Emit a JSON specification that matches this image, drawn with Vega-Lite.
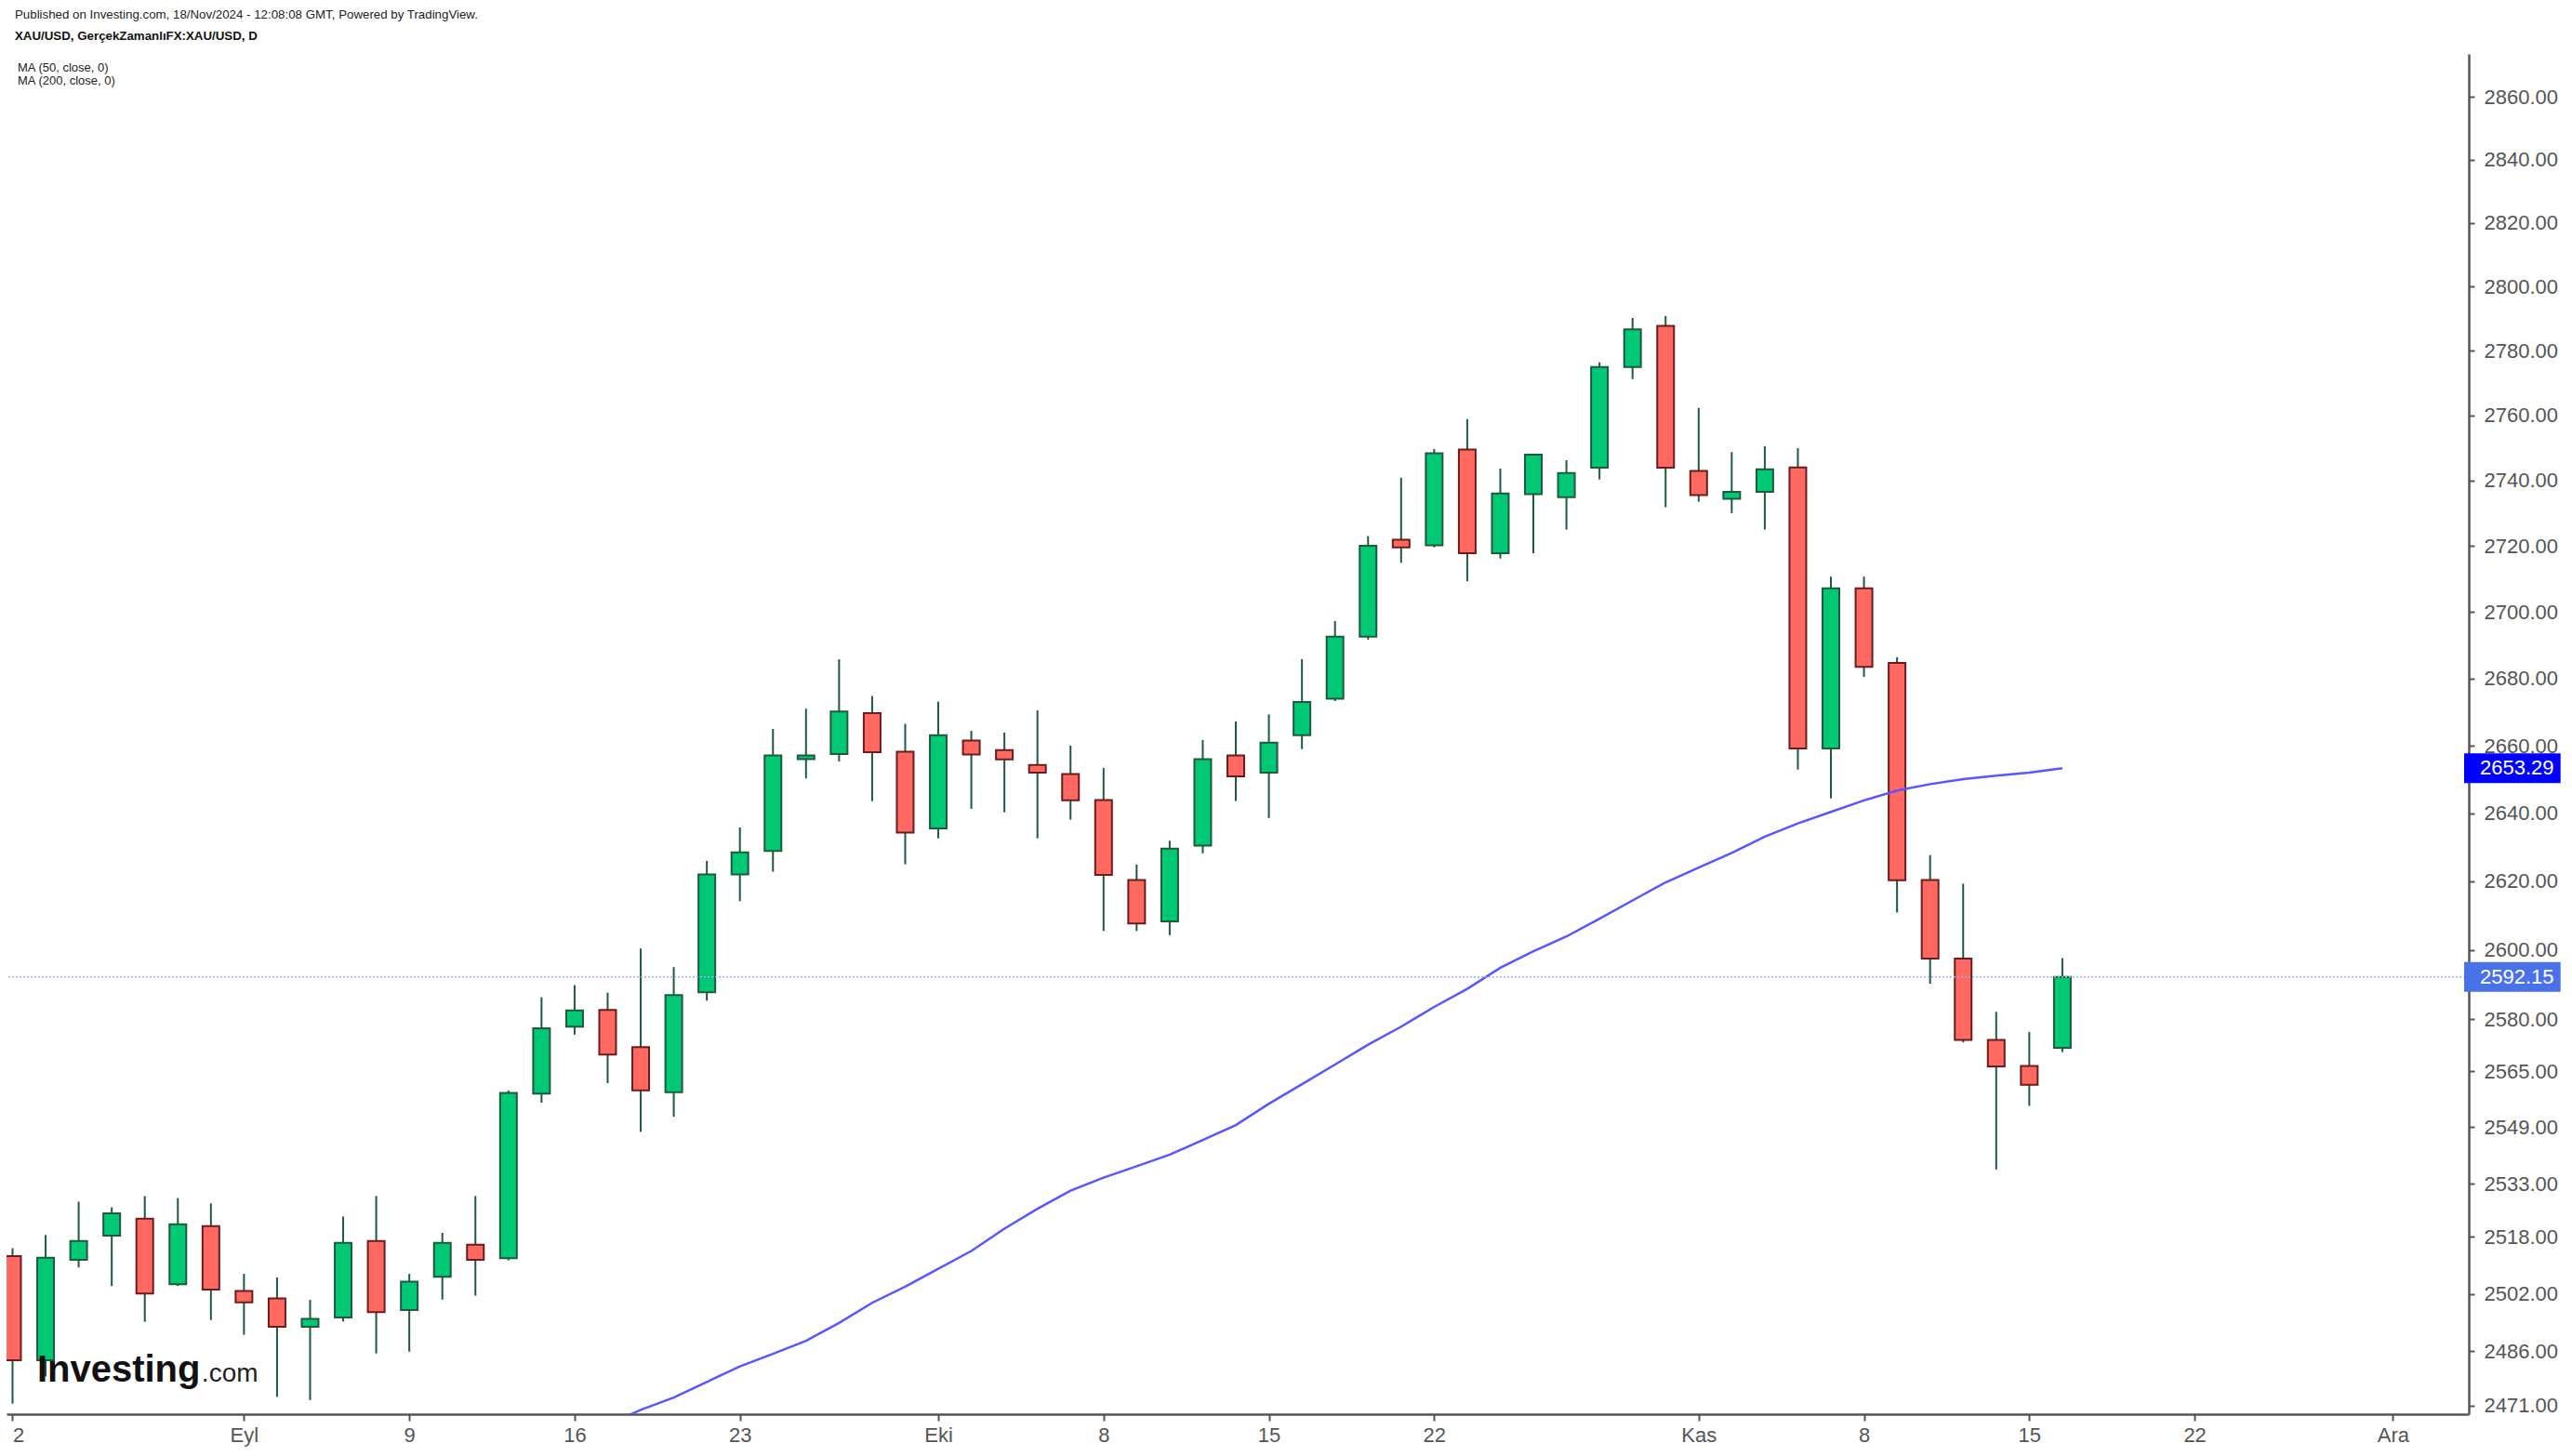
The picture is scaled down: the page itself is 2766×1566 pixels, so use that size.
{
  "$schema": "https://vega.github.io/schema/vega-lite/v6.json",
  "width": 2648,
  "height": 1463,
  "autosize": "none",
  "padding": {"left": 7, "top": 58, "right": 111, "bottom": 45},
  "background": "white",
  "title": {
    "text": "Published on Investing.com, 18/Nov/2024 - 12:08:08 GMT, Powered by TradingView.",
    "subtitle": "XAU/USD, GerçekZamanlıFX:XAU/USD, D",
    "anchor": "start",
    "frame": "group",
    "dx": 9,
    "offset": 13,
    "font": "Liberation Sans",
    "fontSize": 13.3,
    "fontWeight": "normal",
    "color": "#222222",
    "subtitleFont": "Liberation Sans",
    "subtitleFontSize": 13.3,
    "subtitleFontWeight": "bold",
    "subtitleColor": "#111111",
    "subtitlePadding": 9
  },
  "datasets": {
    "candles": [
      {"i": 0, "date": "2024-08-22", "o": 2512.6, "h": 2514.8, "l": 2471.5, "c": 2483.5},
      {"i": 1, "date": "2024-08-23", "o": 2483.5, "h": 2518.5, "l": 2479.0, "c": 2512.1},
      {"i": 2, "date": "2024-08-26", "o": 2511.5, "h": 2527.9, "l": 2509.4, "c": 2516.8},
      {"i": 3, "date": "2024-08-27", "o": 2518.3, "h": 2526.3, "l": 2504.2, "c": 2524.6},
      {"i": 4, "date": "2024-08-28", "o": 2523.1, "h": 2529.5, "l": 2494.2, "c": 2502.1},
      {"i": 5, "date": "2024-08-29", "o": 2504.7, "h": 2528.9, "l": 2504.2, "c": 2521.5},
      {"i": 6, "date": "2024-08-30", "o": 2521.0, "h": 2527.4, "l": 2494.7, "c": 2503.2},
      {"i": 7, "date": "2024-09-02", "o": 2502.8, "h": 2507.6, "l": 2490.6, "c": 2499.6},
      {"i": 8, "date": "2024-09-03", "o": 2500.7, "h": 2506.6, "l": 2473.4, "c": 2492.8},
      {"i": 9, "date": "2024-09-04", "o": 2492.8, "h": 2500.3, "l": 2472.5, "c": 2495.0},
      {"i": 10, "date": "2024-09-05", "o": 2495.4, "h": 2523.7, "l": 2494.3, "c": 2516.3},
      {"i": 11, "date": "2024-09-06", "o": 2516.8, "h": 2529.5, "l": 2485.4, "c": 2496.9},
      {"i": 12, "date": "2024-09-09", "o": 2497.5, "h": 2507.6, "l": 2485.9, "c": 2505.4},
      {"i": 13, "date": "2024-09-10", "o": 2506.8, "h": 2519.1, "l": 2500.4, "c": 2516.3},
      {"i": 14, "date": "2024-09-11", "o": 2515.8, "h": 2529.5, "l": 2501.5, "c": 2511.5},
      {"i": 15, "date": "2024-09-12", "o": 2512.0, "h": 2559.5, "l": 2511.4, "c": 2558.8},
      {"i": 16, "date": "2024-09-13", "o": 2558.6, "h": 2586.3, "l": 2556.0, "c": 2577.3},
      {"i": 17, "date": "2024-09-16", "o": 2577.8, "h": 2589.8, "l": 2575.5, "c": 2582.5},
      {"i": 18, "date": "2024-09-17", "o": 2582.6, "h": 2587.6, "l": 2561.6, "c": 2569.8},
      {"i": 19, "date": "2024-09-18", "o": 2571.9, "h": 2600.4, "l": 2547.7, "c": 2559.5},
      {"i": 20, "date": "2024-09-19", "o": 2559.0, "h": 2595.0, "l": 2552.0, "c": 2586.9},
      {"i": 21, "date": "2024-09-20", "o": 2587.7, "h": 2626.0, "l": 2585.3, "c": 2622.0},
      {"i": 22, "date": "2024-09-23", "o": 2622.0, "h": 2635.8, "l": 2614.2, "c": 2628.5},
      {"i": 23, "date": "2024-09-24", "o": 2628.9, "h": 2665.0, "l": 2622.8, "c": 2657.1},
      {"i": 24, "date": "2024-09-25", "o": 2656.0, "h": 2671.0, "l": 2650.3, "c": 2657.1},
      {"i": 25, "date": "2024-09-26", "o": 2657.5, "h": 2685.8, "l": 2655.3, "c": 2670.2},
      {"i": 26, "date": "2024-09-27", "o": 2669.7, "h": 2674.8, "l": 2643.6, "c": 2658.1},
      {"i": 27, "date": "2024-09-30", "o": 2658.2, "h": 2666.5, "l": 2625.0, "c": 2634.3},
      {"i": 28, "date": "2024-10-01", "o": 2635.5, "h": 2673.1, "l": 2632.6, "c": 2663.1},
      {"i": 29, "date": "2024-10-02", "o": 2661.5, "h": 2664.4, "l": 2641.3, "c": 2657.4},
      {"i": 30, "date": "2024-10-03", "o": 2658.7, "h": 2663.9, "l": 2640.3, "c": 2655.9},
      {"i": 31, "date": "2024-10-04", "o": 2654.3, "h": 2670.5, "l": 2632.6, "c": 2652.0},
      {"i": 32, "date": "2024-10-07", "o": 2651.6, "h": 2660.0, "l": 2638.1, "c": 2643.8},
      {"i": 33, "date": "2024-10-08", "o": 2643.9, "h": 2653.4, "l": 2605.5, "c": 2621.9},
      {"i": 34, "date": "2024-10-09", "o": 2620.4, "h": 2624.9, "l": 2605.5, "c": 2607.7},
      {"i": 35, "date": "2024-10-10", "o": 2608.3, "h": 2631.9, "l": 2604.3, "c": 2629.6},
      {"i": 36, "date": "2024-10-11", "o": 2630.5, "h": 2661.7, "l": 2628.2, "c": 2656.0},
      {"i": 37, "date": "2024-10-14", "o": 2657.1, "h": 2667.2, "l": 2643.6, "c": 2650.9},
      {"i": 38, "date": "2024-10-15", "o": 2652.0, "h": 2669.3, "l": 2638.6, "c": 2660.9},
      {"i": 39, "date": "2024-10-16", "o": 2663.1, "h": 2685.8, "l": 2659.0, "c": 2673.0},
      {"i": 40, "date": "2024-10-17", "o": 2674.0, "h": 2697.3, "l": 2673.3, "c": 2692.6},
      {"i": 41, "date": "2024-10-18", "o": 2692.6, "h": 2723.0, "l": 2691.7, "c": 2720.1},
      {"i": 42, "date": "2024-10-21", "o": 2721.9, "h": 2740.8, "l": 2714.9, "c": 2719.6},
      {"i": 43, "date": "2024-10-22", "o": 2720.2, "h": 2749.6, "l": 2719.6, "c": 2748.3},
      {"i": 44, "date": "2024-10-23", "o": 2749.5, "h": 2758.8, "l": 2709.3, "c": 2717.8},
      {"i": 45, "date": "2024-10-24", "o": 2717.8, "h": 2743.6, "l": 2716.2, "c": 2736.0},
      {"i": 46, "date": "2024-10-25", "o": 2735.8, "h": 2748.0, "l": 2717.8, "c": 2747.9},
      {"i": 47, "date": "2024-10-28", "o": 2734.9, "h": 2746.2, "l": 2725.0, "c": 2742.3},
      {"i": 48, "date": "2024-10-29", "o": 2743.9, "h": 2776.4, "l": 2740.3, "c": 2774.9},
      {"i": 49, "date": "2024-10-30", "o": 2774.9, "h": 2790.2, "l": 2771.2, "c": 2786.6},
      {"i": 50, "date": "2024-10-31", "o": 2787.7, "h": 2790.8, "l": 2731.8, "c": 2743.9},
      {"i": 51, "date": "2024-11-01", "o": 2742.9, "h": 2762.3, "l": 2733.5, "c": 2735.5},
      {"i": 52, "date": "2024-11-04", "o": 2734.4, "h": 2748.7, "l": 2730.0, "c": 2736.5},
      {"i": 53, "date": "2024-11-05", "o": 2736.5, "h": 2750.5, "l": 2725.0, "c": 2743.4},
      {"i": 54, "date": "2024-11-06", "o": 2744.0, "h": 2749.9, "l": 2652.9, "c": 2659.2},
      {"i": 55, "date": "2024-11-07", "o": 2659.2, "h": 2710.7, "l": 2644.4, "c": 2707.2},
      {"i": 56, "date": "2024-11-08", "o": 2707.2, "h": 2710.7, "l": 2680.5, "c": 2683.5},
      {"i": 57, "date": "2024-11-11", "o": 2684.7, "h": 2686.4, "l": 2610.9, "c": 2620.3},
      {"i": 58, "date": "2024-11-12", "o": 2620.4, "h": 2627.7, "l": 2590.2, "c": 2597.5},
      {"i": 59, "date": "2024-11-13", "o": 2597.5, "h": 2619.3, "l": 2573.3, "c": 2574.0},
      {"i": 60, "date": "2024-11-14", "o": 2574.0, "h": 2582.1, "l": 2537.0, "c": 2566.4},
      {"i": 61, "date": "2024-11-15", "o": 2566.5, "h": 2576.3, "l": 2555.1, "c": 2561.1},
      {"i": 62, "date": "2024-11-18", "o": 2571.7, "h": 2597.6, "l": 2570.5, "c": 2592.15}
    ],
    "ma": [
      {"i": 18, "v": 2465.7, "series": "MA (50, close, 0)"},
      {"i": 19, "v": 2469.8, "series": "MA (50, close, 0)"},
      {"i": 20, "v": 2473.2, "series": "MA (50, close, 0)"},
      {"i": 21, "v": 2477.5, "series": "MA (50, close, 0)"},
      {"i": 22, "v": 2481.8, "series": "MA (50, close, 0)"},
      {"i": 23, "v": 2485.3, "series": "MA (50, close, 0)"},
      {"i": 24, "v": 2488.9, "series": "MA (50, close, 0)"},
      {"i": 25, "v": 2493.9, "series": "MA (50, close, 0)"},
      {"i": 26, "v": 2499.5, "series": "MA (50, close, 0)"},
      {"i": 27, "v": 2504.0, "series": "MA (50, close, 0)"},
      {"i": 28, "v": 2509.0, "series": "MA (50, close, 0)"},
      {"i": 29, "v": 2514.0, "series": "MA (50, close, 0)"},
      {"i": 30, "v": 2520.3, "series": "MA (50, close, 0)"},
      {"i": 31, "v": 2525.9, "series": "MA (50, close, 0)"},
      {"i": 32, "v": 2531.0, "series": "MA (50, close, 0)"},
      {"i": 33, "v": 2534.7, "series": "MA (50, close, 0)"},
      {"i": 34, "v": 2537.9, "series": "MA (50, close, 0)"},
      {"i": 35, "v": 2541.2, "series": "MA (50, close, 0)"},
      {"i": 36, "v": 2545.4, "series": "MA (50, close, 0)"},
      {"i": 37, "v": 2549.6, "series": "MA (50, close, 0)"},
      {"i": 38, "v": 2555.7, "series": "MA (50, close, 0)"},
      {"i": 39, "v": 2561.3, "series": "MA (50, close, 0)"},
      {"i": 40, "v": 2566.9, "series": "MA (50, close, 0)"},
      {"i": 41, "v": 2572.6, "series": "MA (50, close, 0)"},
      {"i": 42, "v": 2577.8, "series": "MA (50, close, 0)"},
      {"i": 43, "v": 2583.5, "series": "MA (50, close, 0)"},
      {"i": 44, "v": 2588.7, "series": "MA (50, close, 0)"},
      {"i": 45, "v": 2594.8, "series": "MA (50, close, 0)"},
      {"i": 46, "v": 2599.6, "series": "MA (50, close, 0)"},
      {"i": 47, "v": 2603.9, "series": "MA (50, close, 0)"},
      {"i": 48, "v": 2609.1, "series": "MA (50, close, 0)"},
      {"i": 49, "v": 2614.4, "series": "MA (50, close, 0)"},
      {"i": 50, "v": 2619.7, "series": "MA (50, close, 0)"},
      {"i": 51, "v": 2624.0, "series": "MA (50, close, 0)"},
      {"i": 52, "v": 2628.3, "series": "MA (50, close, 0)"},
      {"i": 53, "v": 2633.1, "series": "MA (50, close, 0)"},
      {"i": 54, "v": 2637.0, "series": "MA (50, close, 0)"},
      {"i": 55, "v": 2640.4, "series": "MA (50, close, 0)"},
      {"i": 56, "v": 2643.8, "series": "MA (50, close, 0)"},
      {"i": 57, "v": 2646.7, "series": "MA (50, close, 0)"},
      {"i": 58, "v": 2648.6, "series": "MA (50, close, 0)"},
      {"i": 59, "v": 2650.1, "series": "MA (50, close, 0)"},
      {"i": 60, "v": 2651.1, "series": "MA (50, close, 0)"},
      {"i": 61, "v": 2652.0, "series": "MA (50, close, 0)"},
      {"i": 62, "v": 2653.29, "series": "MA (50, close, 0)"}
    ],
    "lastClose": [{"value": 2592.15}],
    "tags": [
      {"name": "ma", "value": 2653.29},
      {"name": "close", "value": 2592.15}
    ]
  },
  "layer": [
    {
      "data": {"name": "candles"},
      "mark": {"type": "rule", "color": "#1f5a3d", "strokeWidth": 2, "clip": true},
      "encoding": {
        "x": {
          "field": "i", "type": "quantitative", "title": null,
          "scale": {"domain": [-0.042, 74.153], "nice": false, "zero": false},
          "axis": {
            "orient": "bottom",
            "values": [0, 7, 12, 17, 22, 28, 33, 38, 43, 51, 56, 61, 66, 72],
            "labelExpr": "datum.value==0?'2':datum.value==7?'Eyl':datum.value==12?'9':datum.value==17?'16':datum.value==22?'23':datum.value==28?'Eki':datum.value==33?'8':datum.value==38?'15':datum.value==43?'22':datum.value==51?'Kas':datum.value==56?'8':datum.value==61?'15':datum.value==66?'22':'Ara'",
            "labelAlign": {"condition": {"test": "datum.value == 0", "value": "left"}, "value": "center"},
            "labelFont": "Liberation Sans",
            "labelFontSize": 22,
            "labelColor": "#555555",
            "domainColor": "#555555",
            "domainWidth": 2.5,
            "tickColor": "#555555",
            "tickWidth": 2,
            "tickSize": 7,
            "labelPadding": 5,
            "grid": false,
            "labelOverlap": false,
            "labelFlush": false,
            "labelBound": false
          }
        },
        "y": {
          "field": "l", "type": "quantitative", "title": null,
          "scale": {"type": "log", "domain": [2468.6, 2873.7], "nice": false, "zero": false},
          "axis": {
            "orient": "right",
            "values": [2471, 2486, 2502, 2518, 2533, 2549, 2565, 2580, 2600, 2620, 2640, 2660, 2680, 2700, 2720, 2740, 2760, 2780, 2800, 2820, 2840, 2860],
            "format": ".2f",
            "labelFont": "Liberation Sans",
            "labelFontSize": 22,
            "labelColor": "#555555",
            "domainColor": "#555555",
            "domainWidth": 2.5,
            "tickColor": "#555555",
            "tickWidth": 2,
            "tickSize": 6,
            "labelPadding": 10,
            "grid": false,
            "labelOverlap": false,
            "labelFlush": false,
            "labelBound": false
          }
        },
        "y2": {"field": "h"}
      }
    },
    {
      "data": {"name": "candles"},
      "mark": {"type": "bar", "width": 18, "strokeWidth": 2, "clip": true},
      "encoding": {
        "x": {"field": "i", "type": "quantitative", "title": null},
        "y": {"field": "o", "type": "quantitative", "title": null},
        "y2": {"field": "c"},
        "fill": {"condition": {"test": "datum.c >= datum.o", "value": "#00c875"}, "value": "#ff6961"},
        "stroke": {"condition": {"test": "datum.c >= datum.o", "value": "#1f5a3d"}, "value": "#6b1c1c"}
      }
    },
    {
      "data": {"name": "ma"},
      "mark": {"type": "line", "strokeWidth": 2.5, "clip": true},
      "encoding": {
        "x": {"field": "i", "type": "quantitative", "title": null},
        "y": {"field": "v", "type": "quantitative", "title": null},
        "color": {
          "field": "series", "type": "nominal",
          "scale": {"domain": ["MA (50, close, 0)", "MA (200, close, 0)"], "range": ["#5757ff", "#5757ff"]},
          "legend": {
            "orient": "none",
            "legendX": -1,
            "legendY": 8,
            "title": null,
            "symbolSize": 0,
            "symbolOpacity": 0,
            "symbolStrokeWidth": 0,
            "symbolType": "circle",
            "labelFont": "Liberation Sans",
            "labelFontSize": 13,
            "labelColor": "#222222",
            "labelOffset": 0,
            "rowPadding": -1,
            "padding": 0
          }
        }
      }
    },
    {
      "data": {"name": "lastClose"},
      "mark": {"type": "rule", "color": "#9aaef0", "strokeWidth": 1.5, "strokeDash": [2, 2]},
      "encoding": {
        "y": {"field": "value", "type": "quantitative", "title": null}
      }
    },
    {
      "data": {"values": [{}]},
      "mark": {"type": "text", "text": "Investing", "font": "Liberation Sans", "fontSize": 40, "fontWeight": "bold", "align": "left", "baseline": "alphabetic", "color": "#111111"},
      "encoding": {
        "x": {"datum": 0.742, "type": "quantitative"},
        "y": {"datum": 2477.5, "type": "quantitative"}
      }
    },
    {
      "data": {"values": [{}]},
      "mark": {"type": "text", "text": ".com", "font": "Liberation Sans", "fontSize": 28, "fontWeight": "normal", "align": "left", "baseline": "alphabetic", "color": "#222222"},
      "encoding": {
        "x": {"datum": 5.72, "type": "quantitative"},
        "y": {"datum": 2477.5, "type": "quantitative"}
      }
    },
    {
      "data": {"name": "tags"},
      "mark": {"type": "rect", "yOffset": -16, "y2Offset": 16, "clip": false},
      "encoding": {
        "x": {"datum": 74.153, "type": "quantitative"},
        "x2": {"datum": 77.07},
        "y": {"field": "value", "type": "quantitative", "title": null},
        "y2": {"field": "value"},
        "fill": {
          "field": "name", "type": "nominal",
          "scale": {"domain": ["ma", "close"], "range": ["#0000ff", "#4a72e8"]},
          "legend": null
        }
      }
    },
    {
      "data": {"name": "tags"},
      "mark": {"type": "text", "align": "left", "baseline": "middle", "color": "#ffffff", "font": "Liberation Sans", "fontSize": 22, "clip": false},
      "encoding": {
        "x": {"datum": 74.63, "type": "quantitative"},
        "y": {"field": "value", "type": "quantitative", "title": null},
        "text": {"field": "value", "type": "quantitative", "format": ".2f"}
      }
    }
  ],
  "config": {
    "view": {"stroke": null},
    "font": "Liberation Sans"
  }
}
